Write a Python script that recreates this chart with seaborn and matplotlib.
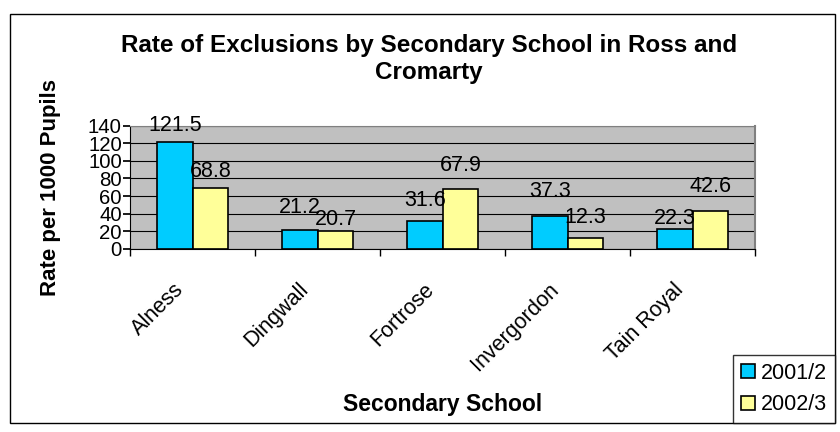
import pandas as pd
import matplotlib.pyplot as plt
import matplotlib.transforms as mtransforms
import seaborn as sns
from matplotlib.patches import Rectangle

# --- Data ---
schools = ['Alness', 'Dingwall', 'Fortrose', 'Invergordon', 'Tain Royal']
rate_2001 = [121.5, 21.2, 31.6, 37.3, 22.3]
rate_2002 = [68.8, 20.7, 67.9, 12.3, 42.6]
years = ['2001/2', '2002/3']

df = pd.DataFrame({
    'School': schools * 2,
    'Year': [years[0]] * len(schools) + [years[1]] * len(schools),
    'Rate': rate_2001 + rate_2002,
})

sns.set_theme(style='white')
plt.rcParams['font.family'] = ['Liberation Sans', 'DejaVu Sans']
plt.rcParams['text.color'] = 'black'
plt.rcParams['axes.labelcolor'] = 'black'
plt.rcParams['xtick.color'] = 'black'
plt.rcParams['ytick.color'] = 'black'

FS = 15.5

fig = plt.figure(figsize=(8.4, 4.32), dpi=100)
ax = fig.add_axes([0.155, 0.424, 0.744, 0.285])
ax.set_facecolor('#C0C0C0')

sns.barplot(data=df, x='School', y='Rate', hue='Year', ax=ax,
            palette=['#00CCFF', '#FFFF99'], width=0.57,
            edgecolor='black', linewidth=1.2, saturation=1, legend=True)

ax.set_ylim(0, 140)

# value labels, nudged like Excel placed them (points above bar top)
label_pad = [[4, 9, 7.5, 10.4, 0.4],
             [4.7, 0.4, 9.7, 7.5, 10.4]]
for c, pads in zip(ax.containers, label_pad):
    labels = ax.bar_label(c, fmt='%.1f', padding=0, fontsize=FS, color='black')
    for lab, p in zip(labels, pads):
        lab.xyann = (0, p)

ax.set_yticks(range(0, 141, 20))
ax.yaxis.grid(True, color='black', linewidth=0.8)
ax.set_axisbelow(True)
ax.set_xlim(-0.5, len(schools) - 0.5)
for s in ax.spines.values():
    s.set_color('black')
    s.set_linewidth(0.8)
ax.spines['top'].set_color('#808080')
ax.spines['right'].set_color('#808080')
ax.spines['right'].set_linewidth(1.5)

ax.tick_params(axis='y', labelsize=14.7, length=5, color='black', left=True, pad=1)
ax.set_xticks(range(len(schools)))
ax.set_xticklabels(schools, rotation=45, ha='right', va='center',
                   rotation_mode='anchor', fontsize=FS)
ax.tick_params(axis='x', length=0, pad=27)
shift = mtransforms.ScaledTranslation(-0.12, 0, fig.dpi_scale_trans)
for t in ax.get_xticklabels():
    t.set_transform(t.get_transform() + shift)
# category boundary tick marks
ax.set_xticks([i - 0.5 for i in range(len(schools) + 1)], minor=True)
ax.tick_params(axis='x', which='minor', length=5, color='black', bottom=True)

ax.set_xlabel('Secondary School', fontsize=16.5, fontweight='bold')
ax.set_ylabel('Rate per 1000 Pupils', fontsize=16, fontweight='bold')
ax.yaxis.set_label_coords(-0.11, 0.5)
ax.xaxis.set_label_coords(0.5, -1.17)

fig.text(0.511, 0.863, 'Rate of Exclusions by Secondary School in Ross and\nCromarty',
         ha='center', va='center', fontsize=17.5, fontweight='bold', linespacing=1.2)

leg = ax.get_legend()
handles = leg.legend_handles
leg.remove()
fig.legend(handles, years, loc='lower right', bbox_to_anchor=(0.994, 0.0208),
           fontsize=FS, frameon=True, fancybox=False, edgecolor='black',
           handlelength=0.63, handleheight=0.63, handletextpad=0.3,
           borderpad=0.36, labelspacing=0.5, borderaxespad=0)

fig.patches.append(Rectangle((0.0119, 0.0208), 0.982, 0.947, transform=fig.transFigure,
                             fill=False, edgecolor='black', linewidth=1))

fig.savefig('out.png', dpi=100, facecolor='white')
